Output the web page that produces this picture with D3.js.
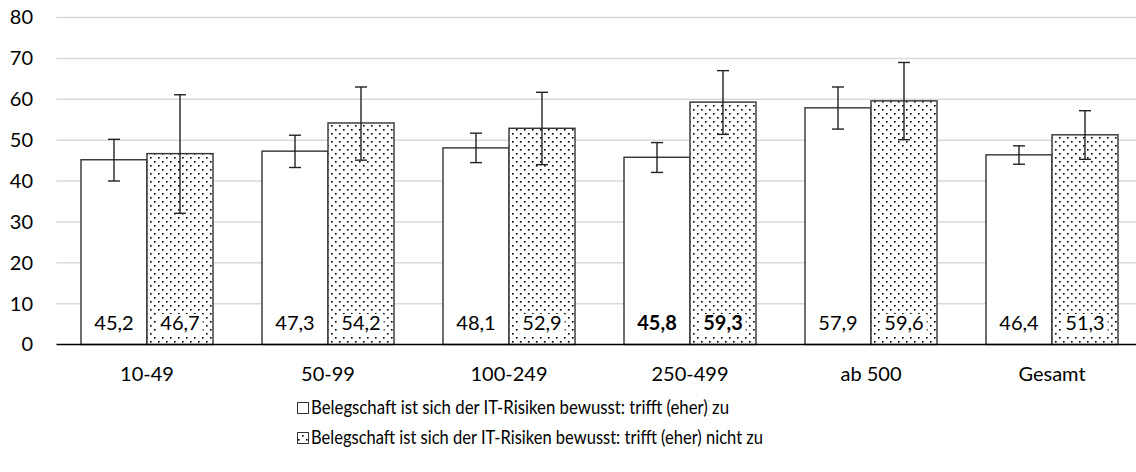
<!DOCTYPE html>
<html>
<head>
<meta charset="utf-8">
<script src="https://cdn.jsdelivr.net/npm/d3@7"></script>
<style>
  html, body { margin: 0; padding: 0; background: #fff; }
  svg { display: block; font-family: Lato, "Open Sans", sans-serif; }
</style>
</head>
<body>
<svg id="chart" width="1136" height="472"></svg>
<script>
const categories = ["10-49", "50-99", "100-249", "250-499", "ab 500", "Gesamt"];
const seriesNames = [
  "Belegschaft ist sich der IT-Risiken bewusst: trifft (eher) zu",
  "Belegschaft ist sich der IT-Risiken bewusst: trifft (eher) nicht zu"
];
const valuesZu = [45.2, 47.3, 48.1, 45.8, 57.9, 46.4];
const valuesNichtZu = [46.7, 54.2, 52.9, 59.3, 59.6, 51.3];
const errLowZu = [40.0, 43.3, 44.5, 42.1, 52.7, 44.1];
const errHighZu = [50.2, 51.2, 51.7, 49.4, 63.0, 48.6];
const errLowNichtZu = [32.1, 45.1, 44.0, 51.4, 50.1, 45.3];
const errHighNichtZu = [61.1, 63.0, 61.7, 67.0, 69.0, 57.2];
const boldCategories = ["250-499"];
const yTicks = [0, 10, 20, 30, 40, 50, 60, 70, 80];

const svg = d3.select("#chart");
const FONT = 20;

const x0 = d3.scaleBand().domain(categories).range([56.5, 1142.5]).padding(0);
const x1 = d3.scaleBand().domain([0, 1]).range([0, 132]);
const y = d3.scaleLinear().domain([0, 80]).range([344.5, 17.5]);
const barOffset = (x0.bandwidth() - x1.range()[1]) / 2;

// pattern
const defs = svg.append("defs");
const pat = defs.append("pattern").attr("id", "dots").attr("patternUnits", "userSpaceOnUse")
  .attr("width", 8).attr("height", 8);
pat.append("rect").attr("width", 8).attr("height", 8).attr("fill", "#fff");
pat.append("rect").attr("x", 1).attr("y", 1).attr("width", 1.6).attr("height", 1.6).attr("fill", "#000");
pat.append("rect").attr("x", 5).attr("y", 5).attr("width", 1.6).attr("height", 1.6).attr("fill", "#000");

// gridlines
svg.append("g").selectAll("line").data(yTicks.filter(d => d > 0)).join("line")
  .attr("x1", 56.5).attr("x2", 1142.5)
  .attr("y1", d => y(d)).attr("y2", d => y(d))
  .attr("stroke", "#d9d9d9").attr("stroke-width", 1.5);

// y axis labels
const yAxis = d3.axisLeft(y).tickValues(yTicks).tickSize(0).tickPadding(0).tickFormat(d3.format("d"));
const gy = svg.append("g").attr("transform", "translate(33,0)").call(yAxis);
gy.select(".domain").remove();
gy.selectAll("text").attr("font-size", FONT).attr("fill", "#000").attr("font-family", "Lato");

const data = categories.map((c, i) => ({
  cat: c,
  bars: [
    { s: 0, v: valuesZu[i], lo: errLowZu[i], hi: errHighZu[i] },
    { s: 1, v: valuesNichtZu[i], lo: errLowNichtZu[i], hi: errHighNichtZu[i] }
  ]
}));

const groups = svg.append("g").selectAll("g").data(data).join("g")
  .attr("transform", d => `translate(${x0(d.cat) + barOffset},0)`);

const bar = groups.selectAll("g.bar").data(d => d.bars.map(b => ({ ...b, cat: d.cat }))).join("g").attr("class", "bar");

bar.append("rect")
  .attr("x", d => x1(d.s))
  .attr("y", d => y(d.v))
  .attr("width", x1.bandwidth())
  .attr("height", d => y(0) - y(d.v))
  .attr("fill", d => d.s === 0 ? "#fff" : "url(#dots)")
  .attr("stroke", "#333").attr("stroke-width", 1.4);

// labels with white box
bar.each(function(d) {
  const g = d3.select(this);
  const cx = x1(d.s) + x1.bandwidth() / 2;
  const bold = boldCategories.includes(d.cat);
  const t = g.append("text")
    .attr("x", cx).attr("y", 330)
    .attr("text-anchor", "middle")
    .attr("font-size", FONT)
    .attr("font-weight", bold ? "bold" : "normal")
    .attr("fill", "#000")
    .text(d3.format(".1f")(d.v).replace(".", ","));
  if (d.s === 1) {
    const bb = t.node().getBBox();
    g.insert("rect", "text")
      .attr("x", bb.x - 3).attr("y", 314)
      .attr("width", bb.width + 6).attr("height", 22)
      .attr("fill", "#fff");
  }
});

// error bars
const err = bar.append("g").attr("stroke", "#222").attr("stroke-width", 1.4);
err.append("line")
  .attr("x1", d => x1(d.s) + x1.bandwidth() / 2).attr("x2", d => x1(d.s) + x1.bandwidth() / 2)
  .attr("y1", d => y(d.lo)).attr("y2", d => y(d.hi));
err.append("line")
  .attr("x1", d => x1(d.s) + x1.bandwidth() / 2 - 6).attr("x2", d => x1(d.s) + x1.bandwidth() / 2 + 6)
  .attr("y1", d => y(d.lo)).attr("y2", d => y(d.lo));
err.append("line")
  .attr("x1", d => x1(d.s) + x1.bandwidth() / 2 - 6).attr("x2", d => x1(d.s) + x1.bandwidth() / 2 + 6)
  .attr("y1", d => y(d.hi)).attr("y2", d => y(d.hi));

// baseline
svg.append("line").attr("x1", 56.5).attr("x2", 1142.5).attr("y1", y(0)).attr("y2", y(0))
  .attr("stroke", "#000").attr("stroke-width", 1.5);

// x axis labels
const xAxis = d3.axisBottom(x0).tickSize(0).tickPadding(0);
const gx = svg.append("g").attr("transform", "translate(0,367)").call(xAxis);
gx.select(".domain").remove();
gx.selectAll("text").attr("font-size", FONT).attr("fill", "#000").attr("font-family", "Lato").attr("dy", "0.71em");

// legend
const legendWidths = [418, 452];
const legend = svg.append("g").selectAll("g").data(seriesNames).join("g")
  .attr("transform", (d, i) => `translate(297,${408 + i * 30})`);
legend.append("rect").attr("x", 0.5).attr("y", -5.5).attr("width", 11).attr("height", 11)
  .attr("fill", (d, i) => i === 0 ? "#fff" : "url(#dots)")
  .attr("stroke", "#333").attr("stroke-width", 1);
legend.append("text").attr("x", 14).attr("dy", "0.35em")
  .attr("font-size", 18.5).attr("fill", "#000")
  .attr("textLength", (d, i) => legendWidths[i]).attr("lengthAdjust", "spacingAndGlyphs")
  .text(d => d);
</script>
</body>
</html>
